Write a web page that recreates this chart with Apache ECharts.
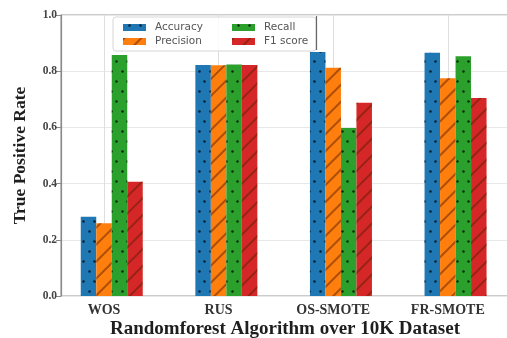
<!DOCTYPE html>
<html>
<head>
<meta charset="utf-8">
<script src="https://cdn.jsdelivr.net/npm/echarts@6/dist/echarts.min.js"></script>
<style>
html,body{margin:0;padding:0;background:#fff;}
#chart{width:507px;height:338px;}
</style>
</head>
<body>
<div id="chart"></div>
<script>
var categories = ['WOS', 'RUS', 'OS-SMOTE', 'FR-SMOTE'];
var accuracy  = [0.282, 0.822, 0.868, 0.866];
var precision = [0.259, 0.821, 0.812, 0.775];
var recall    = [0.858, 0.824, 0.598, 0.853];
var f1score   = [0.407, 0.822, 0.688, 0.705];
var yTicks = [0, 0.2, 0.4, 0.6, 0.8, 1.0];

var serif = '"Liberation Serif","Times New Roman",serif';
var dotDecal = {
  symbol: 'circle', symbolSize: 0.8, color: 'rgba(0,0,0,0.75)',
  dashArrayX: [[2.5, 7.5], [0, 5, 2.5, 2.5]], dashArrayY: [2.5, 6.5], rotation: 0
};
var hatchDecal = {
  symbol: 'rect', symbolSize: 1, color: 'rgba(90,30,0,0.5)',
  dashArrayX: [1, 0], dashArrayY: [1.3, 9.5], rotation: -Math.PI / 4
};

function barSeries(name, data, color, decal) {
  return {
    name: name, type: 'bar', xAxisIndex: 1, yAxisIndex: 1,
    data: data, barWidth: 15.5, barGap: '0%', z: 2,
    itemStyle: { color: color, decal: decal }
  };
}

var chart = echarts.init(document.getElementById('chart'), null, { renderer: 'canvas' });
chart.setOption({
  animation: false,
  backgroundColor: '#fff',
  grid: [
    { left: 61, right: -2, top: 15, bottom: 42, containLabel: false, outerBoundsMode: 'none',
      show: true, borderColor: '#9a9a9a', borderWidth: 1.2, backgroundColor: 'transparent' },
    { left: 46.7, right: 1.9, top: 15, bottom: 42, containLabel: false, outerBoundsMode: 'none' }
  ],
  xAxis: [
    { type: 'value', gridIndex: 0, min: 0, max: 1,
      axisLine: { show: false }, axisTick: { show: false }, axisLabel: { show: false }, splitLine: { show: false },
      name: 'Randomforest Algorithm over 10K Dataset', nameLocation: 'middle', nameGap: 24,
      nameTextStyle: { fontFamily: serif, fontWeight: 'bold', fontSize: 19, color: '#1e1e1e' } },
    { type: 'category', gridIndex: 1, data: categories,
      axisLine: { show: false }, axisTick: { show: false }, splitLine: { show: false },
      axisLabel: { fontFamily: serif, fontWeight: 'bold', fontSize: 14, color: '#333', margin: 7 } },
    { type: 'category', gridIndex: 1, data: categories, boundaryGap: false, position: 'top',
      min: -0.5, max: categories.length - 0.5,
      axisLine: { show: false }, axisTick: { show: false }, axisLabel: { show: false },
      splitLine: { show: false } }
  ],
  yAxis: [
    { type: 'value', gridIndex: 0, min: yTicks[0], max: yTicks[yTicks.length - 1], interval: 0.2,
      axisLine: { show: true, lineStyle: { color: '#8a8a8a', width: 1.2 } },
      axisTick: { show: true, length: 5, lineStyle: { color: '#8a8a8a' } },
      axisLabel: { fontFamily: serif, fontWeight: 'bold', fontSize: 11.5, color: '#444', margin: 4,
        formatter: function (v) { return v.toFixed(1); } },
      splitLine: { show: true, lineStyle: { color: '#e8e8e8', width: 1 } },
      name: 'True Positive Rate', nameLocation: 'middle', nameGap: 32,
      nameTextStyle: { fontFamily: serif, fontWeight: 'bold', fontSize: 17.5, color: '#1e1e1e' } },
    { type: 'value', gridIndex: 1, min: 0, max: 1, show: false, splitLine: { show: false } }
  ],
  legend: [
    { data: ['Accuracy', 'Precision'], orient: 'vertical', left: 123, top: 22, padding: 0,
      itemWidth: 23, itemHeight: 7, itemGap: 3, icon: 'rect', z: 5,
      textStyle: { fontFamily: '"DejaVu Sans",sans-serif', fontSize: 10.5, color: '#555', padding: [0, 0, 0, 4] } },
    { data: ['Recall', 'F1 score'], orient: 'vertical', left: 232, top: 22, padding: 0,
      itemWidth: 23, itemHeight: 7, itemGap: 3, icon: 'rect', z: 5,
      textStyle: { fontFamily: '"DejaVu Sans",sans-serif', fontSize: 10.5, color: '#555', padding: [0, 0, 0, 4] } }
  ],
  graphic: [
    { type: 'rect', z: 3, shape: { x: 113, y: 17, width: 203, height: 34, r: 3 },
      style: { fill: 'rgba(255,255,255,0.85)', stroke: '#d6d6d6', lineWidth: 1 } },
    { type: 'line', z: 3, shape: { x1: 316.5, y1: 16, x2: 316.5, y2: 50 },
      style: { stroke: '#666', lineWidth: 1.2 } }
  ],
  series: [
    { name: '_pad', type: 'bar', xAxisIndex: 1, yAxisIndex: 1, barWidth: 15.5, barGap: '0%',
      data: categories.map(function () { return '-'; }), z: 1 },
    { name: '_grid', type: 'scatter', xAxisIndex: 1, yAxisIndex: 1, symbolSize: 0,
      data: categories.map(function (c) { return [c, 0]; }), z: 1, silent: true,
      itemStyle: { opacity: 0 },
      markLine: { silent: true, symbol: 'none', z: 1, animation: false, label: { show: false },
        lineStyle: { color: '#dedede', type: 'solid', width: 1, opacity: 1 },
        data: categories.map(function (c) { return [{ xAxis: c, yAxis: 0 }, { xAxis: c, yAxis: 1 }]; }) } },
    barSeries('Accuracy', accuracy, '#1f77b4', dotDecal),
    barSeries('Precision', precision, '#ff7f0e', hatchDecal),
    barSeries('Recall', recall, '#2ca02c', dotDecal),
    barSeries('F1 score', f1score, '#d62728', hatchDecal)
  ]
});
</script>
</body>
</html>
